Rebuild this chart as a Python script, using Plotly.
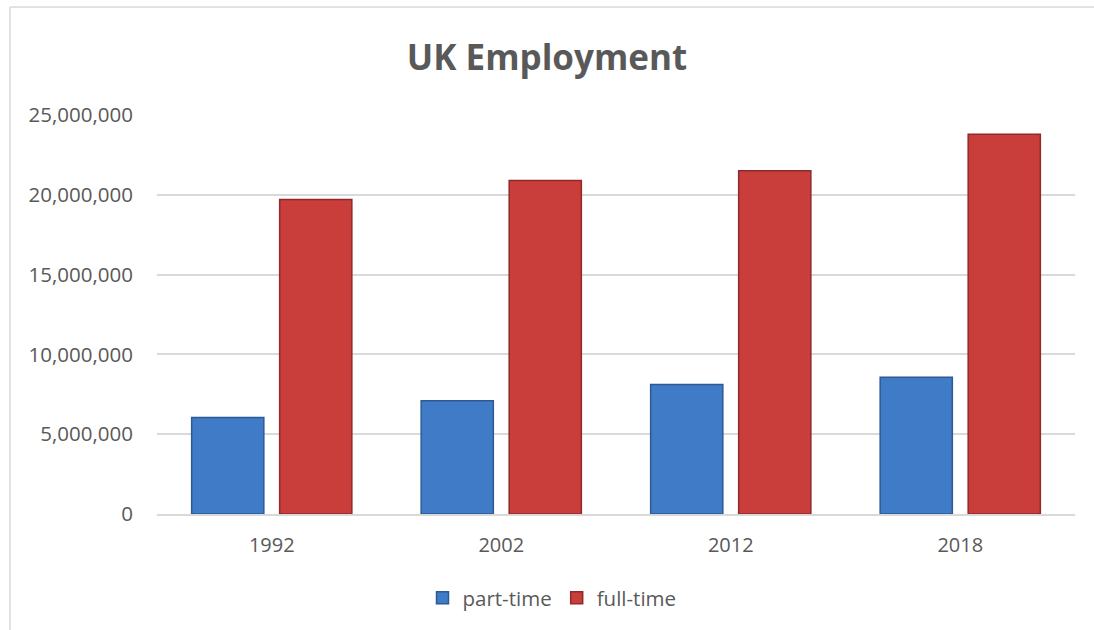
import plotly.graph_objects as go

years = ["1992", "2002", "2012", "2018"]
part_time = [6050000, 7100000, 8120000, 8570000]
full_time = [19700000, 20900000, 21500000, 23800000]

W, H = 1094, 630
L, R, T, B = 157, 19, 115, 116
pw, ph = W - L - R, H - T - B

fig = go.Figure()
fig.add_trace(go.Bar(x=years, y=part_time, name="part-time",
                     marker=dict(color="#3f7bc6", line=dict(color="#2c5a94", width=1.5))))
fig.add_trace(go.Bar(x=years, y=full_time, name="full-time",
                     marker=dict(color="#c93d3b", line=dict(color="#8e2a29", width=1.5))))

fig.update_layout(
    width=W, height=H,
    margin=dict(l=L, r=R, t=T, b=B),
    paper_bgcolor="white", plot_bgcolor="white",
    barmode="group", bargap=0.233, bargroupgap=0.18,
    font=dict(family="Open Sans", size=20, color="#595959"),
    title=dict(text="<b>UK Employment</b>", x=0.5, xanchor="center",
               y=1 - 58 / H, yanchor="middle", yref="container",
               font=dict(family="Open Sans", size=35, color="#595959")),
    xaxis=dict(showgrid=False, showline=True, linecolor="#d9d9d9", linewidth=1.5,
               ticks="outside", ticklen=12, tickcolor="rgba(0,0,0,0)",
               tickfont=dict(size=20)),
    yaxis=dict(range=[0, 25000000], dtick=5000000, tickformat=",",
               showgrid=True, gridcolor="#d9d9d9", gridwidth=1.5,
               zeroline=False, showline=False,
               ticks="outside", ticklen=19, tickcolor="rgba(0,0,0,0)",
               tickfont=dict(size=20.5)),
    legend=dict(orientation="h", x=(552 - L) / pw, xanchor="center", y=-(598 - 514) / ph,
                yanchor="middle", font=dict(size=20.5), itemwidth=30,
                bgcolor="rgba(0,0,0,0)"),
    showlegend=True,
)

top_y = (H - B - 7) / ph
left_x = (10 - L) / pw
right_x = (W - L) / pw
fig.add_shape(type="line", xref="paper", yref="paper",
              x0=left_x, x1=right_x, y0=top_y, y1=top_y,
              line=dict(color="#d9d9d9", width=1.5), layer="below")
fig.add_shape(type="line", xref="paper", yref="paper",
              x0=left_x, x1=left_x, y0=-(H - (H - B)) / ph, y1=top_y,
              line=dict(color="#d9d9d9", width=1.5), layer="below")

fig.write_html("out.html")
